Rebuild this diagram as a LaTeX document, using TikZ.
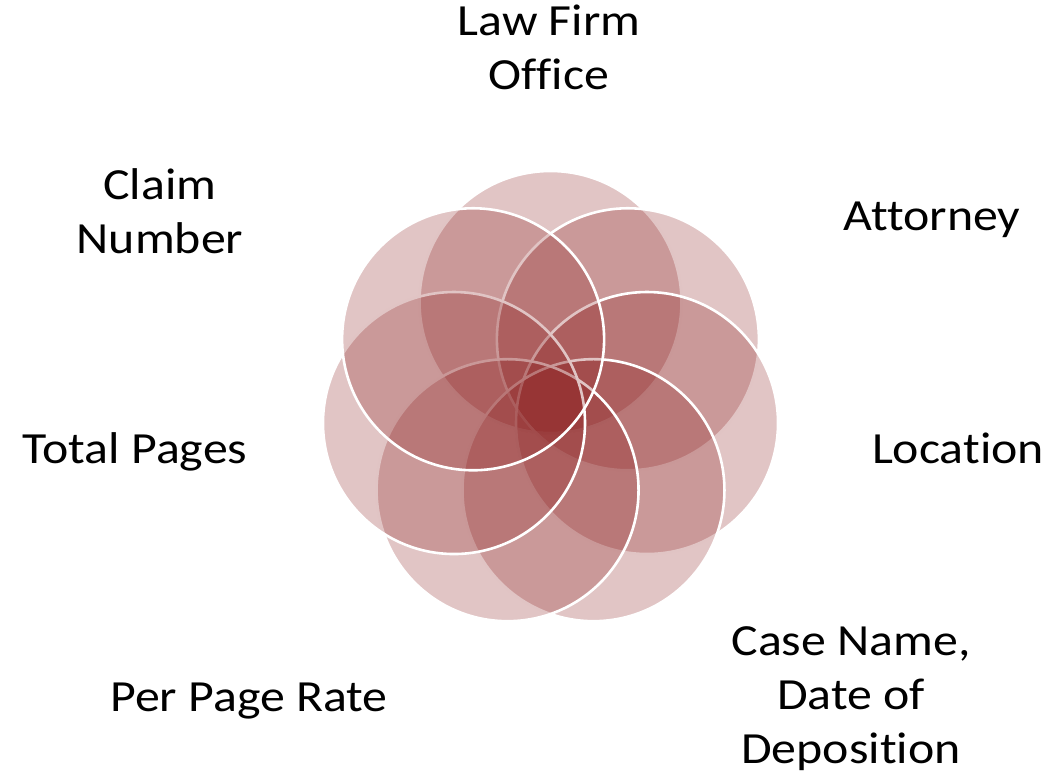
\documentclass[tikz,border=0pt]{standalone}
\usepackage{fontspec}
\setmainfont{Carlito}[FakeStretch=1.12, Ligatures=NoCommon]
\usepackage{tikz}
\usetikzlibrary{calc}

\definecolor{vennred}{RGB}{135,22,22}

\tikzset{
	venn fill/.style={fill=vennred, fill opacity=0.25},
	venn line/.style={draw=white, line width=2.6pt},
	item label/.style={font=\fontsize{44.5}{54}\selectfont, align=center, anchor=base, inner sep=0pt},
}

\begin{document}
\begin{tikzpicture}[x=1pt, y=-1pt]

% parameters %{{{2

	\def\numcircles{7}
	\def\ringradius{99}
	\def\circleradius{131}

	\useasboundingbox (0,0) rectangle (1049,778);

% coordinates %{{{2

	\coordinate (O) at (550.5,401);

	\foreach \i in {1,...,\numcircles} {
		\coordinate (C\i) at ($(O)+({-90+360/\numcircles*(\i-1)}:\ringradius)$);
	}

% circles, clockwise from the top %{{{2

	\foreach \i in {1,...,\numcircles} {
		\fill[venn fill] (C\i) circle (\circleradius);
		\draw[venn line] (C\i) circle (\circleradius);
	}

% labels (base = last line) %{{{2

	\node[item label] (office)   at (549,90)  {Law Firm\\Office};
	\node[item label] (attorney) at (932,230) {Attorney};
	\node[item label] (location) at (958,463) {Location};
	\node[item label] (casename) at (851,763) {Case Name,\\Date of\\Deposition};
	\node[item label] (rate)     at (249,711) {Per Page Rate};
	\node[item label] (pages)    at (135,463) {Total Pages};
	\node[item label] (claim)    at (160,253) {Claim\\Number};

% closing %{{{2

\end{tikzpicture}
\end{document}
